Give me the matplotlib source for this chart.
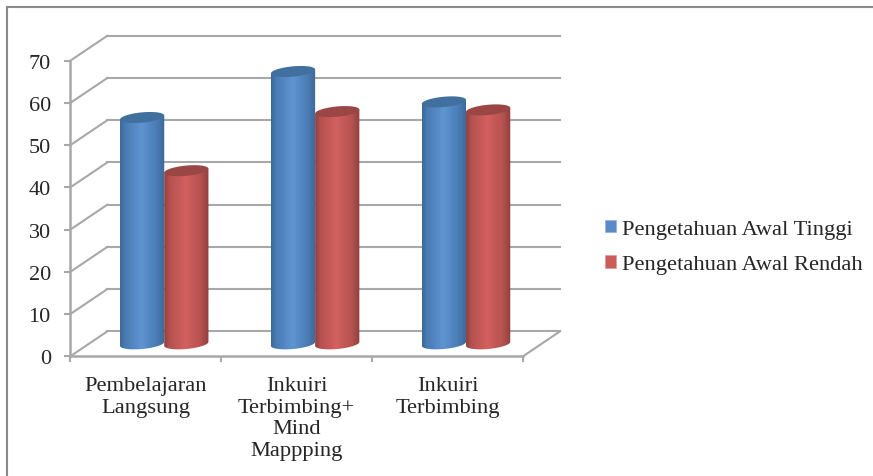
import numpy as np
import matplotlib
matplotlib.use("Agg")
import matplotlib.pyplot as plt
from matplotlib.lines import Line2D
from matplotlib.patches import Patch, PathPatch
from matplotlib.path import Path
from matplotlib.colors import LinearSegmentedColormap

categories = ["Pembelajaran\nLangsung", "Inkuiri\nTerbimbing+\nMind\nMappping", "Inkuiri\nTerbimbing"]
tinggi = [53.6, 64.5, 57.3]
rendah = [41.0, 55.0, 55.4]
series_names = ["Pengetahuan Awal Tinggi", "Pengetahuan Awal Rendah"]
y_ticks = [0, 10, 20, 30, 40, 50, 60, 70]

W, H = 873, 477
GRID = "#a8a8a8"
TEXT = "#262626"
DEPTH_X = 0.245      # floor depth, in category widths
DEPTH_Y = 5.9        # floor depth, in value units
BAR_W = 0.293
CAP_B = 1.22         # minor radius of the cylinder ends, in value units
CAP_TILT = 3.2       # rise of the ends per category width

plt.rcParams["font.family"] = ["Liberation Serif", "DejaVu Serif"]
fig = plt.figure(figsize=(W / 100, H / 100), dpi=100, facecolor="white")
ax = fig.add_axes([70.3 / W, 1 - 357.3 / H, (523 - 70.3) / W, (357.3 - 61.7) / H])
ax.set_xlim(0, 3)
ax.set_ylim(0, 70)
ax.patch.set_visible(False)

# Outer chart frame, open to the right and bottom of the figure
for xs, ys in (([7.0, 7.0], [8, 477]), ([7.0, 873], [8, 8])):
    fig.add_artist(Line2D(np.array(xs) / W, 1 - np.array(ys) / H, color="#8a8a8a", lw=1.5))

# Back wall gridlines, side wall diagonals and the floor
for v in y_ticks:
    ax.plot([DEPTH_X, 3 + DEPTH_X], [v + DEPTH_Y] * 2, color=GRID, lw=1.5, clip_on=False, zorder=1)
    ax.plot([0, DEPTH_X], [v, v + DEPTH_Y], color=GRID, lw=1.5, clip_on=False, zorder=1)
ax.plot([3, 3 + DEPTH_X], [0, DEPTH_Y], color=GRID, lw=1.5, clip_on=False, zorder=1)

for side in ("top", "right"):
    ax.spines[side].set_visible(False)
for side in ("left", "bottom"):
    ax.spines[side].set_color(GRID)
    ax.spines[side].set_linewidth(1.8)

ax.set_yticks(y_ticks)
ax.set_xticks([0, 1, 2, 3])
ax.set_xticklabels([])
ax.set_xticks([0.5, 1.5, 2.5], categories, minor=True)
ax.tick_params(axis="both", which="major", length=4, width=1.5, color=GRID)
ax.tick_params(axis="y", labelsize=16, labelcolor=TEXT, pad=10)
ax.tick_params(axis="x", which="minor", length=0, pad=14, labelsize=16.2, labelcolor=TEXT)
for lab in ax.get_xticklabels(minor=True):
    lab.set_linespacing(1.2)


def shade(dark, mid, light):
    return LinearSegmentedColormap.from_list(
        "cyl", [(0, dark), (0.12, mid), (0.48, light), (0.82, mid), (1, dark)])


def cylinder(xc, value, cmap, cap_color, z):
    """Draw one shaded cylinder standing on the middle of the floor."""
    a = BAR_W / 2
    base = DEPTH_Y / 2
    top = base + value
    t = np.linspace(np.pi, 2 * np.pi, 40)
    lower_x = a * np.cos(t)
    lower_y = CAP_B * np.sin(t) + CAP_TILT * lower_x
    rim = CAP_TILT * a
    verts = np.vstack([
        [[xc - a, top - rim]],
        np.column_stack([xc + lower_x, base + lower_y]),
        [[xc + a, top + rim]],
        [[xc - a, top - rim]],
    ])
    body = PathPatch(Path(verts), transform=ax.transData, fc="none", ec="none")
    ax.add_patch(body)
    img = ax.imshow(np.linspace(0, 1, 256)[None, :], cmap=cmap, aspect="auto",
                    extent=[xc - a, xc + a, base - 3 * CAP_B, top + 3 * CAP_B], zorder=z)
    img.set_clip_path(body)

    # Top end of the cylinder
    s = np.linspace(0, 2 * np.pi, 80)
    cap_x = a * np.cos(s)
    cap_y = CAP_B * np.sin(s) + CAP_TILT * cap_x
    ax.fill(xc + cap_x, top + cap_y, color=cap_color, lw=0, zorder=z + 0.1, clip_on=False)


blue = shade("#3c6896", "#4a7cb4", "#5f94d2")
red = shade("#8f3f3d", "#b55250", "#d2605e")
for i in range(len(categories)):
    centre = i + 0.5 + DEPTH_X / 2
    cylinder(centre - BAR_W / 2, tinggi[i], blue, "#41709f", 3)
    cylinder(centre + BAR_W / 2, rendah[i], red, "#9a4644", 4)
ax.set_xlim(0, 3)
ax.set_ylim(0, 70)

handles = [Patch(fc="#5a8bc8", ec="#8fb0da", lw=0.5), Patch(fc="#cc5c5a", ec="#e09a98", lw=0.5)]
fig.legend(handles, series_names, loc="center left",
           bbox_to_anchor=(605 / W, 1 - 248 / H), frameon=False,
           fontsize=16.2, labelcolor=TEXT, handlelength=0.49, handleheight=0.49,
           handletextpad=0.27, labelspacing=0.72, borderpad=0, borderaxespad=0)

fig.savefig("out.png", dpi=100, facecolor="white")
